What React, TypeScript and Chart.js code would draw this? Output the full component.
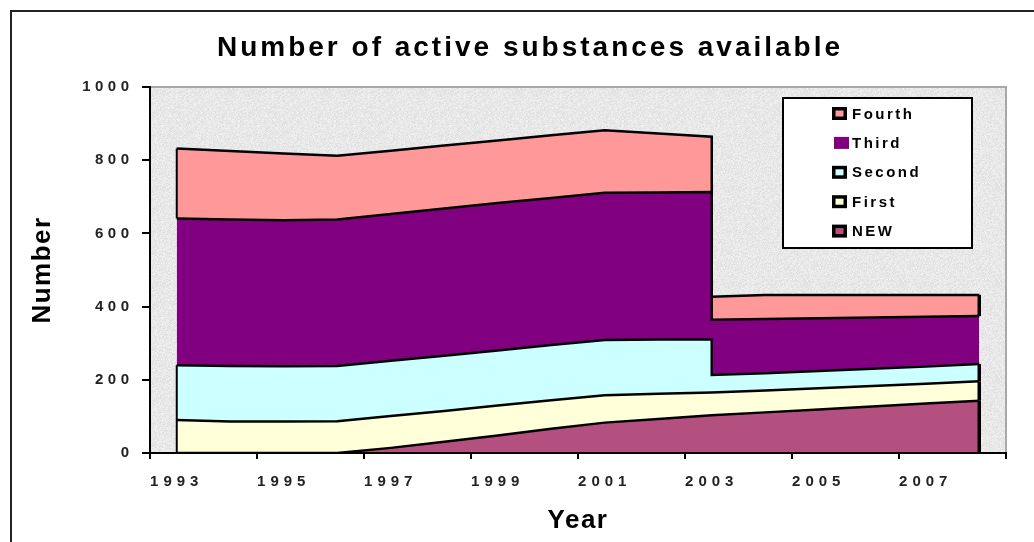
import React, { useEffect, useRef } from 'react';
import { Chart, registerables } from 'chart.js';

Chart.register(...registerables);

// ---- data -------------------------------------------------------------
const chartTitle = 'Number of active substances available';
const xAxisTitle = 'Year';
const yAxisTitle = 'Number';

// x positions (year categories); 2003 appears twice for the step down
const years = [1993, 1994, 1995, 1996, 1997, 1998, 1999, 2000, 2001, 2002, 2003, 2003, 2004, 2005, 2006, 2007, 2008];

const seriesNames = ['NEW', 'First', 'Second', 'Third', 'Fourth'];
const newValues = [0, 0, 0, 0, 14, 31, 48, 66, 83, 93, 103, 103, 111, 119, 127, 135, 143];
const firstValues = [90, 86, 86, 87, 87, 84, 82, 78, 75, 69, 62, 62, 60, 58, 56, 54, 53];
const secondValues = [150, 152, 151, 151, 151, 151, 150, 151, 151, 148, 145, 48, 47, 47, 47, 47, 47];
const thirdValues = [401, 400, 399, 400, 401, 402, 403, 402, 402, 402, 403, 151, 148, 144, 140, 136, 131];
const fourthValues = [191, 187, 182, 174, 173, 172, 171, 171, 171, 161, 151, 63, 66, 64, 62, 60, 58];

const xTickMarks = [1992.5, 1994.5, 1996.5, 1998.5, 2000.5, 2002.5, 2004.5, 2006.5, 2008.5];
const xTickLabels = ['1993', '1995', '1997', '1999', '2001', '2003', '2005', '2007'];
const yTickValues = [0, 200, 400, 600, 800, 1000];

// ---- styles -----------------------------------------------------------
const seriesColors = ['#b4507f', '#ffffd9', '#ccffff', '#800080', '#ff9999'];
const seriesOutlined = [true, true, true, false, true];
const FONT = "'Liberation Sans', Arial, Helvetica, sans-serif";

function makeTexture(): HTMLCanvasElement {
  const size = 96;
  const c = document.createElement('canvas');
  c.width = size;
  c.height = size;
  const g = c.getContext('2d')!;
  const img = g.createImageData(size, size);
  let s = 987654321;
  for (let i = 0; i < size * size; i++) {
    s = (Math.imul(s, 1103515245) + 12345) >>> 0;
    const h = (s >>> 16) % 19;
    const v = 241 - h;
    img.data[i * 4] = v;
    img.data[i * 4 + 1] = v;
    img.data[i * 4 + 2] = v;
    img.data[i * 4 + 3] = 255;
  }
  g.putImageData(img, 0, 0);
  return c;
}

export default function App() {
  const ref = useRef<HTMLCanvasElement>(null);

  useEffect(() => {
    const canvas = ref.current;
    if (!canvas) return;
    const texture = makeTexture();
    const valuesBySeries = [newValues, firstValues, secondValues, thirdValues, fourthValues];

    // cumulative (stacked) tops, built from the series arrays
    const running = years.map(() => 0);
    const datasets = seriesNames.map((name, i) => {
      const data = years.map((x, k) => {
        running[k] += valuesBySeries[i][k];
        return { x, y: running[k] };
      });
      return {
        label: name,
        data,
        backgroundColor: seriesColors[i],
        borderColor: '#000',
        borderWidth: 2.5,
        pointRadius: 0,
        pointHoverRadius: 0,
        tension: 0,
        fill: i === 0 ? 'origin' : '-1',
        yAxisID: 'y',
      };
    });

    const backgroundPlugin = {
      id: 'bgFrame',
      beforeDraw(chart: any) {
        const { ctx, chartArea: a } = chart;
        ctx.save();
        ctx.fillStyle = '#ffffff';
        ctx.fillRect(0, 0, chart.width, chart.height);
        ctx.strokeStyle = '#222';
        ctx.lineWidth = 2;
        ctx.strokeRect(11, 11, chart.width + 40, chart.height + 40);
        const pat = ctx.createPattern(texture, 'repeat');
        ctx.fillStyle = pat || '#e9e9e9';
        ctx.fillRect(a.left, a.top, a.right - a.left, a.bottom - a.top);
        ctx.strokeStyle = '#a8a8a8';
        ctx.lineWidth = 2;
        ctx.beginPath();
        ctx.moveTo(a.left, a.top);
        ctx.lineTo(a.right, a.top);
        ctx.lineTo(a.right, a.bottom);
        ctx.stroke();
        ctx.restore();
      },
    };

    const spacingPlugin = {
      id: 'letterSpacing',
      beforeDraw(chart: any) {
        const ctx = chart.ctx;
        const wrap = (obj: any, method: string, spacing: string) => {
          if (!obj || obj['__wrapped_' + method]) return;
          const orig = obj[method];
          obj[method] = function (...args: any[]) {
            const prev = ctx.letterSpacing;
            ctx.letterSpacing = spacing;
            try {
              return orig.apply(this, args);
            } finally {
              ctx.letterSpacing = prev;
            }
          };
          obj['__wrapped_' + method] = true;
        };
        wrap(chart.scales.x, 'drawLabels', '5px');
        wrap(chart.scales.y, 'drawLabels', '4.5px');
        wrap(chart.scales.x, 'drawTitle', '1.5px');
        wrap(chart.scales.y, 'drawTitle', '1.5px');
        wrap(chart.titleBlock, 'draw', '3px');
      },
    };

    const edgesPlugin = {
      id: 'areaEdges',
      afterDatasetsDraw(chart: any) {
        const ctx = chart.ctx;
        const zero = chart.scales.y.getPixelForValue(0);
        ctx.save();
        ctx.strokeStyle = '#000';
        chart.data.datasets.forEach((_ds: any, i: number) => {
          if (!seriesOutlined[i]) return;
          const pts = chart.getDatasetMeta(i).data;
          const below = i > 0 ? chart.getDatasetMeta(i - 1).data : null;
          const ends = [0, pts.length - 1];
          ends.forEach((k, j) => {
            const p = pts[k];
            const b = below ? below[k].y : zero;
            ctx.lineWidth = j === 0 ? 2 : 3.5;
            ctx.beginPath();
            ctx.moveTo(p.x, b);
            ctx.lineTo(p.x, p.y);
            ctx.stroke();
          });
        });
        ctx.restore();
      },
    };

    const legendPlugin = {
      id: 'boxLegend',
      afterDraw(chart: any) {
        const { ctx, chartArea: a } = chart;
        const left = a.right - 223;
        const top = a.top + 11;
        const w = 189;
        const h = 150;
        ctx.save();
        ctx.fillStyle = '#fff';
        ctx.fillRect(left, top, w, h);
        ctx.strokeStyle = '#000';
        ctx.lineWidth = 2;
        ctx.strokeRect(left, top, w, h);
        ctx.font = `bold 15px ${FONT}`;
        ctx.textBaseline = 'middle';
        ctx.textAlign = 'left';
        ctx.letterSpacing = '2.5px';
        const dss = chart.data.datasets;
        const n = dss.length;
        for (let r = 0; r < n; r++) {
          const i = n - 1 - r;
          const ds = dss[i];
          const cy = top + 15.5 + r * 29.4;
          const mx = left + 49;
          if (seriesOutlined[i]) {
            ctx.fillStyle = '#000';
            ctx.fillRect(mx, cy - 6.5, 15, 13);
            ctx.fillStyle = ds.backgroundColor;
            ctx.fillRect(mx + 3.5, cy - 3, 8, 6);
          } else {
            ctx.fillStyle = ds.backgroundColor;
            ctx.fillRect(mx + 2, cy - 6, 15, 12);
          }
          ctx.fillStyle = '#000';
          ctx.fillText(ds.label, left + 69, cy + 1);
        }
        ctx.restore();
      },
    };

    const chart = new Chart(canvas, {
      type: 'line',
      data: { datasets: datasets as any },
      plugins: [backgroundPlugin, spacingPlugin, edgesPlugin, legendPlugin],
      options: {
        responsive: false,
        animation: false,
        events: [],
        layout: { padding: 0 },
        plugins: {
          legend: { display: false },
          tooltip: { enabled: false },
          title: {
            display: true,
            text: chartTitle,
            color: '#000',
            font: { family: FONT, size: 28, weight: 'bold', lineHeight: 1.2 },
            padding: { top: 31, bottom: 22.4 },
          },
        },
        scales: {
          x: {
            type: 'linear',
            min: xTickMarks[0],
            max: xTickMarks[xTickMarks.length - 1],
            afterBuildTicks: (s: any) => {
              s.ticks = xTickMarks.map((v) => ({ value: v }));
            },
            afterFit: (s: any) => {
              s.height = 107;
            },
            grid: { drawOnChartArea: false, drawTicks: true, tickLength: 6, color: '#000', lineWidth: 2 },
            border: { display: true, color: '#000', width: 2, z: 1 },
            ticks: {
              autoSkip: false,
              maxRotation: 0,
              labelOffset: 26.75,
              padding: 14,
              color: '#222',
              font: { family: FONT, size: 15, weight: 'bold' },
              callback: (_v: any, i: number) => xTickLabels[i] ?? '',
            },
            title: {
              display: true,
              text: xAxisTitle,
              color: '#000',
              font: { family: FONT, size: 26, weight: 'bold', lineHeight: 1.2 },
              padding: { top: 0, bottom: 24 },
            },
          },
          y: {
            type: 'linear',
            min: yTickValues[0],
            max: yTickValues[yTickValues.length - 1],
            afterBuildTicks: (s: any) => {
              s.ticks = yTickValues.map((v) => ({ value: v }));
            },
            afterFit: (s: any) => {
              s.width = 150;
            },
            grid: { drawOnChartArea: false, drawTicks: true, tickLength: 8, color: '#000', lineWidth: 2 },
            border: { display: true, color: '#000', width: 2, z: 1 },
            ticks: {
              padding: 8.5,
              color: '#222',
              font: { family: FONT, size: 15, weight: 'bold' },
              callback: (v: any) => String(v),
            },
            title: {
              display: true,
              text: yAxisTitle,
              color: '#000',
              font: { family: FONT, size: 26, weight: 'bold', lineHeight: 1.2 },
              padding: { top: 27, bottom: 0 },
            },
          },
          y2: {
            type: 'linear',
            position: 'right',
            display: true,
            min: 0,
            max: 1,
            grid: { display: false },
            border: { display: false },
            ticks: { display: false },
            afterFit: (s: any) => {
              s.width = 54;
            },
          },
        },
      } as any,
    });

    return () => {
      chart.destroy();
    };
  }, []);

  return (
    <div
      style={{
        position: 'fixed',
        left: 0,
        top: 0,
        width: 1034,
        height: 542,
        overflow: 'hidden',
        background: '#fff',
      }}
    >
      <canvas ref={ref} width={1060} height={560} style={{ display: 'block', width: 1060, height: 560 }} />
    </div>
  );
}
